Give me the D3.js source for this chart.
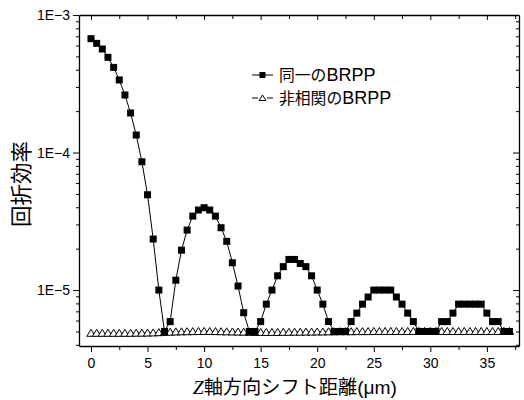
<!DOCTYPE html>
<html><head><meta charset="utf-8">
<script src="https://cdn.jsdelivr.net/npm/d3@7"></script>
<style>body{margin:0;background:#fff}svg{display:block}</style>
</head><body>
<script>
const xValues = [0,0.5,1,1.5,2,2.5,3,3.5,4,4.5,5,5.5,6,6.5,7,7.5,8,8.5,9,9.5,10,10.5,11,11.5,12,12.5,13,13.5,14,14.5,15,15.5,16,16.5,17,17.5,18,18.5,19,19.5,20,20.5,21,21.5,22,22.5,23,23.5,24,24.5,25,25.5,26,26.5,27,27.5,28,28.5,29,29.5,30,30.5,31,31.5,32,32.5,33,33.5,34,34.5,35,35.5,36,36.5,37];
const sameBRPP = [6.73e-4,6.22e-4,5.66e-4,4.92e-4,4.16e-4,3.37e-4,2.62e-4,1.94e-4,1.34e-4,8.57e-5,4.93e-5,2.35e-5,1.0e-5,5.0e-6,5.9e-6,1.18e-5,1.95e-5,2.73e-5,3.45e-5,3.82e-5,3.97e-5,3.82e-5,3.45e-5,2.84e-5,2.26e-5,1.58e-5,1.07e-5,6.84e-6,5.0e-6,5.0e-6,5.9e-6,7.9e-6,1.0e-5,1.27e-5,1.48e-5,1.67e-5,1.67e-5,1.56e-5,1.48e-5,1.27e-5,1.0e-5,7.9e-6,5.9e-6,5.0e-6,5.0e-6,5.0e-6,5.9e-6,6.8e-6,7.9e-6,8.9e-6,1.0e-5,1.0e-5,1.0e-5,1.0e-5,8.9e-6,7.9e-6,6.8e-6,5.9e-6,5.0e-6,5.0e-6,5.0e-6,5.0e-6,5.9e-6,5.9e-6,6.8e-6,7.9e-6,7.9e-6,7.9e-6,7.9e-6,7.9e-6,6.8e-6,5.9e-6,5.9e-6,5.0e-6,5.0e-6];
const uncorrBRPP = [4.85e-6,4.85e-6,4.85e-6,4.85e-6,4.85e-6,4.85e-6,4.85e-6,4.85e-6,4.86e-6,4.86e-6,4.87e-6,4.88e-6,4.9e-6,4.92e-6,4.94e-6,4.96e-6,4.97e-6,4.98e-6,4.99e-6,5.0e-6,5.0e-6,5.0e-6,4.99e-6,4.98e-6,4.97e-6,4.96e-6,4.95e-6,4.94e-6,4.93e-6,4.92e-6,4.92e-6,4.92e-6,4.92e-6,4.92e-6,4.93e-6,4.93e-6,4.94e-6,4.94e-6,4.95e-6,4.95e-6,4.96e-6,4.96e-6,4.97e-6,4.97e-6,4.98e-6,4.98e-6,4.98e-6,4.99e-6,4.99e-6,4.99e-6,5.0e-6,5.0e-6,5.0e-6,5.0e-6,5.0e-6,5.0e-6,5.0e-6,5.0e-6,5.0e-6,5.0e-6,5.0e-6,5.0e-6,5.0e-6,5.0e-6,5.0e-6,5.0e-6,5.0e-6,5.0e-6,5.0e-6,5.0e-6,5.0e-6,5.0e-6,5.0e-6,5.0e-6,5.0e-6];
const xTicks = [0,5,10,15,20,25,30,35];
const yTickValues = [1e-5,1e-4,1e-3];
const yTickLabels = ["1E\u22125","1E\u22124","1E\u22123"];
const seriesCJK = ["同一の","非相関の"];
const seriesLatin = ["BRPP","BRPP"];

const W = 524, H = 400;
const L = 79, R = 519, T = 15, B = 346;
const svg = d3.select("body").append("svg").attr("width", W).attr("height", H);
const x = d3.scaleLinear().domain([-1.06, 37.84]).range([L, R]);
const y = d3.scaleLog().domain([3.92e-6, 1e-3]).range([B, T]);
const latin = "'Liberation Sans', Arial, sans-serif";
const cjk = "'Noto Sans CJK JP', sans-serif";

const minorY = [];
for (let e = -6; e <= -3; e++) for (let m = 2; m <= 9; m++) { const v = m * Math.pow(10, e); if (v >= 3.92e-6 && v <= 1e-3) minorY.push(v); }
const minorX = [2.5,7.5,12.5,17.5,22.5,27.5,32.5,37.5];

const gL = svg.append("g").attr("transform", `translate(${L},0)`);
gL.call(d3.axisLeft(y).tickValues(yTickValues).tickFormat((d,i)=>yTickLabels[i]).tickSize(6).tickSizeOuter(0).tickPadding(3));
gL.append("g").call(d3.axisLeft(y).tickValues(minorY).tickFormat("").tickSize(3).tickSizeOuter(0)).select(".domain").remove();
const gR = svg.append("g").attr("transform", `translate(${R},0)`);
gR.call(d3.axisRight(y).tickValues(yTickValues).tickFormat("").tickSize(-6).tickSizeOuter(0));
gR.append("g").call(d3.axisRight(y).tickValues(minorY).tickFormat("").tickSize(-3).tickSizeOuter(0)).select(".domain").remove();
const gB = svg.append("g").attr("transform", `translate(0,${B})`);
gB.call(d3.axisBottom(x).tickValues(xTicks).tickFormat(d3.format("d")).tickSize(6).tickSizeOuter(0).tickPadding(6));
gB.append("g").call(d3.axisBottom(x).tickValues(minorX).tickFormat("").tickSize(4).tickSizeOuter(0)).select(".domain").remove();
const gT = svg.append("g").attr("transform", `translate(0,${T})`);
gT.call(d3.axisTop(x).tickValues(xTicks).tickFormat("").tickSize(-5).tickSizeOuter(0));
gT.append("g").call(d3.axisTop(x).tickValues(minorX).tickFormat("").tickSize(-4).tickSizeOuter(0)).select(".domain").remove();

svg.selectAll(".domain").attr("stroke", "#000").attr("stroke-width", 1.3);
svg.selectAll(".tick line").attr("stroke", "#000").attr("stroke-width", 1);
svg.selectAll(".tick text").attr("font-family", latin).attr("font-size", 14).attr("fill", "#000");

const pts1 = xValues.map((v,i)=>[v, sameBRPP[i]]);
const pts2 = xValues.map((v,i)=>[v, uncorrBRPP[i]]);
const line = d3.line().x(d=>x(d[0])).y(d=>y(d[1]));

const plot = svg.append("g");
plot.append("path").attr("d", line(pts2)).attr("fill","none").attr("stroke","#000").attr("stroke-width",1);
const triPath = "M0,-4L4.2,3L-4.2,3Z";
plot.selectAll(".tri").data(pts2).enter().append("path").attr("class","tri")
  .attr("d", triPath).attr("transform", d=>`translate(${x(d[0])},${y(d[1])})`)
  .attr("fill","#fff").attr("stroke","#000").attr("stroke-width",1);
plot.append("path").attr("d", line(pts1)).attr("fill","none").attr("stroke","#000").attr("stroke-width",1);
plot.selectAll(".sq").data(pts1).enter().append("rect").attr("class","sq")
  .attr("x", d=>x(d[0])-3.5).attr("y", d=>y(d[1])-3.5).attr("width",7).attr("height",7).attr("fill","#000");

// Legend
const lg = svg.append("g");
const rows = [75, 98];
rows.forEach((ry,i)=>{
  lg.append("line").attr("x1",252).attr("x2",273).attr("y1",ry).attr("y2",ry).attr("stroke","#000").attr("stroke-width",1);
  if (i===0) {
    lg.append("rect").attr("x",259.5).attr("y",ry-3).attr("width",6).attr("height",6).attr("fill","#000");
  } else {
    lg.append("rect").attr("x",258).attr("y",ry-5).attr("width",9).attr("height",9).attr("fill","#fff");
    lg.append("path").attr("d","M0,-3L3.5,2.5L-3.5,2.5Z").attr("transform",`translate(262.5,${ry})`).attr("fill","#fff").attr("stroke","#000").attr("stroke-width",1);
  }
  const t = lg.append("text").attr("x",279).attr("y",ry+6).attr("fill","#000");
  t.append("tspan").attr("font-family",cjk).attr("font-size",15.8).text(seriesCJK[i]);
  t.append("tspan").attr("font-family",latin).attr("font-size",18).text(seriesLatin[i]);
});

// Axis titles
const xt = svg.append("text").attr("x", 295).attr("y", 394).attr("text-anchor","middle").attr("font-size",19.2).attr("fill","#000").attr("font-family",cjk);
xt.append("tspan").attr("font-family","'Liberation Serif', serif").attr("font-style","italic").text("Z");
xt.append("tspan").text("軸方向シフト距離");
xt.append("tspan").attr("font-family",latin).text("(μm)");

svg.append("text").attr("transform","translate(29,184) rotate(-90)").attr("text-anchor","middle")
  .attr("font-family",cjk).attr("font-size",21.5).attr("fill","#000").text("回折効率");
</script>
</body></html>
